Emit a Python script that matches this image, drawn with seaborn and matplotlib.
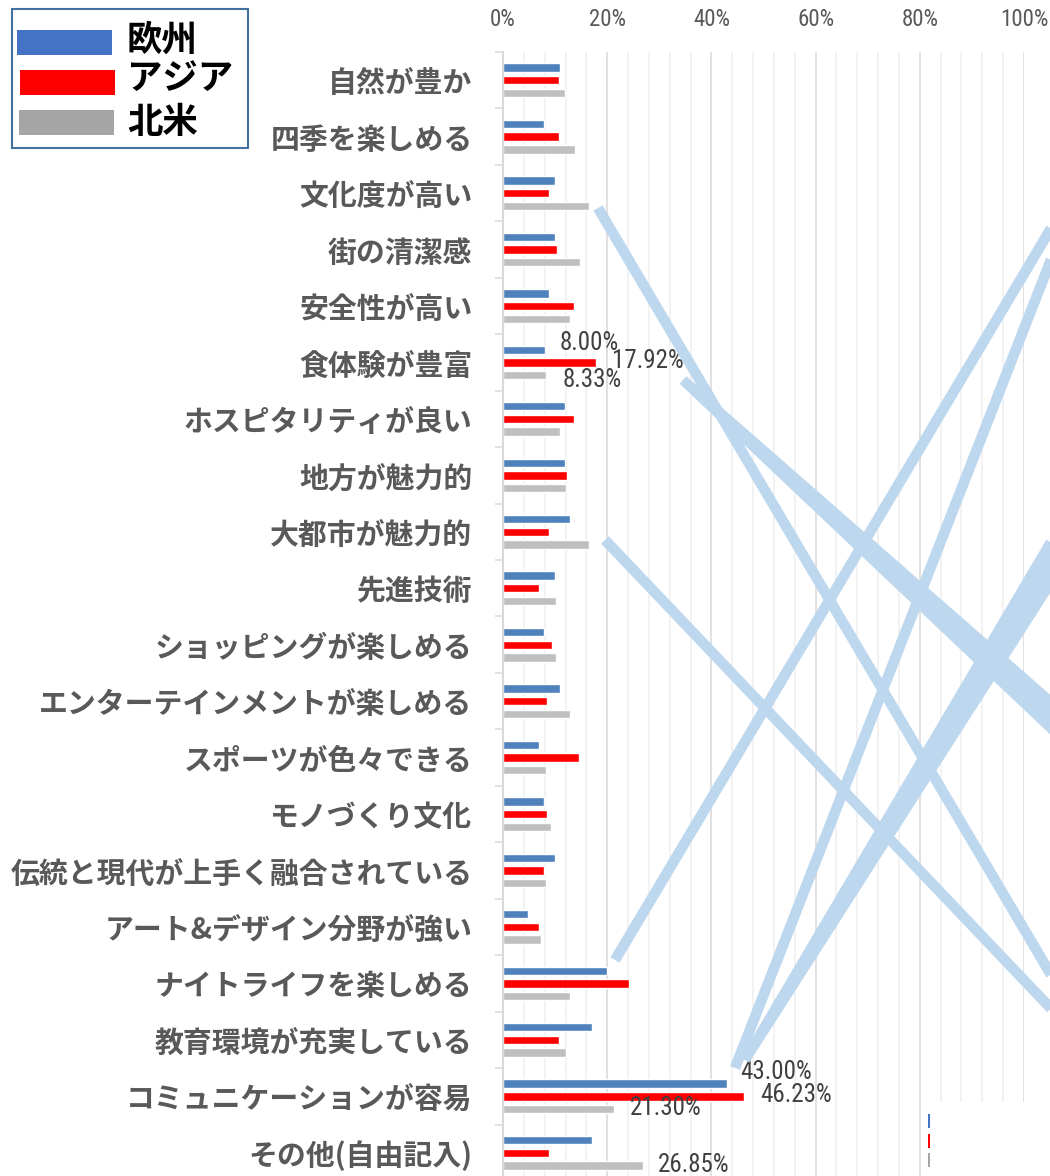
import matplotlib
matplotlib.use('Agg')
import matplotlib.pyplot as plt
from matplotlib import font_manager
from matplotlib.patches import Rectangle, Polygon
from matplotlib.lines import Line2D
from matplotlib.ticker import MultipleLocator, FuncFormatter
import seaborn as sns
import pandas as pd
import numpy as np

# ---- data (percent of respondents) ----
categories = [
    '自然が豊か', '四季を楽しめる', '文化度が高い', '街の清潔感', '安全性が高い',
    '食体験が豊富', 'ホスピタリティが良い', '地方が魅力的', '大都市が魅力的', '先進技術',
    'ショッピングが楽しめる', 'エンターテインメントが楽しめる', 'スポーツが色々できる',
    'モノづくり文化', '伝統と現代が上手く融合されている', 'アート&デザイン分野が強い',
    'ナイトライフを楽しめる', '教育環境が充実している', 'コミュニケーションが容易',
    'その他(自由記入)',
]
regions = ['欧州', 'アジア', '北米']
europe = [11.0, 7.9, 9.9, 9.9, 8.9, 8.00, 11.9, 11.9, 12.9, 9.9,
          7.9, 11.0, 6.9, 7.9, 9.9, 4.8, 20.0, 17.0, 43.00, 17.0]
asia = [10.8, 10.8, 8.8, 10.3, 13.6, 17.92, 13.6, 12.3, 8.8, 7.0,
        9.4, 8.4, 14.6, 8.4, 7.9, 7.0, 24.1, 10.8, 46.23, 8.8]
north_america = [11.9, 13.9, 16.6, 14.8, 12.9, 8.33, 11.0, 12.0, 16.6, 10.1,
                 10.1, 12.9, 8.3, 9.2, 8.3, 7.3, 12.9, 12.0, 21.30, 26.85]

# which bars carry a value label: (category index, region index)
labelled = [(5, 0), (5, 1), (5, 2), (18, 0), (18, 1), (18, 2), (19, 2)]
# label nudges in pixels (dx right, dy down)
label_nudge = [(15, -7), (16, -1), (16, 5), (13, -12), (16, -1), (16, -1), (15, 0)]

BAR_COLORS = ['#4F81BD', '#FF0000', '#BFBFBF']
KEY_COLORS = ['#4472C4', '#FF0000', '#A5A5A5']
W, H, DPI = 1050, 1176, 100

sns.set_theme(style="white")
plt.rcParams['font.family'] = ['Noto Sans CJK JP', 'DejaVu Sans']

names = {f.name for f in font_manager.fontManager.ttflist}
num_font = next((f for f in ['Liberation Sans Narrow', 'Roboto Condensed', 'Open Sans Condensed']
                 if f in names), 'Liberation Sans')

df = pd.DataFrame({
    'category': categories * 3,
    'region': np.repeat(regions, len(categories)),
    'value': europe + asia + north_america,
})

fig = plt.figure(figsize=(W / DPI, H / DPI), dpi=DPI)
fig.patch.set_facecolor('white')
ax = fig.add_axes([503 / W, 1 - 1181 / H, 521 / W, 1129 / H])

group_width = 0.673
sns.barplot(data=df, y='category', x='value', hue='region', hue_order=regions,
            order=categories, palette=BAR_COLORS, orient='h',
            width=group_width, gap=0.34, legend=False, ax=ax, saturation=1)

ax.set_xlim(0, 100)
ax.set_ylim(len(categories) - 0.5, -0.5)
ax.set_xlabel('')
ax.set_ylabel('')

# top percent axis with light gridlines
ax.xaxis.tick_top()
ax.xaxis.set_major_locator(MultipleLocator(20))
ax.xaxis.set_minor_locator(MultipleLocator(4))
ax.xaxis.set_major_formatter(FuncFormatter(lambda v, p: f'{v:.0f}%'))
ax.tick_params(axis='x', which='both', length=0, pad=15, labelsize=16.5,
               labelcolor='#595959')
for lbl in ax.get_xticklabels():
    lbl.set_fontfamily(num_font)
ax.grid(axis='x', which='major', color='#D9D9D9', linewidth=1.1)
ax.grid(axis='x', which='minor', color='#EFEFEF', linewidth=1.1)
ax.grid(axis='y', visible=False)
ax.set_axisbelow(True)

# category labels + separator ticks
ax.tick_params(axis='y', which='major', length=0, pad=22, labelsize=20.8,
               labelcolor='#595959')
for lbl in ax.get_yticklabels():
    lbl.set_fontweight('bold')
ax.set_yticks(np.arange(-0.5, len(categories), 1), minor=True)
ax.tick_params(axis='y', which='minor', length=6, width=1.1, color='#D9D9D9', left=True)

for side in ['top', 'right', 'bottom']:
    ax.spines[side].set_visible(False)
ax.spines['left'].set_color('#D9D9D9')
ax.spines['left'].set_linewidth(1.5)

# value labels
series = [europe, asia, north_america]
step = group_width / 3
for (ci, ri), (dx, dy) in zip(labelled, label_nudge):
    v = series[ri][ci]
    ax.annotate(f'{v:.2f}%', xy=(v, ci + (ri - 1) * step),
                xytext=(dx * 0.72, -dy * 0.72), textcoords='offset points',
                ha='left', va='center', fontsize=18, color='#404040',
                fontfamily=num_font, annotation_clip=False)


def fx(x):
    return x / W


def fy(y):
    return 1 - y / H


# legend box (top left)
fig.add_artist(Rectangle((fx(12), fy(148)), (248 - 12) / W, (148 - 9) / H,
                         facecolor='white', edgecolor='#41719C', linewidth=1.5,
                         transform=fig.transFigure, zorder=6))
key_boxes = [(17, 30), (20, 70), (19, 110)]
key_text_y = [40, 79, 123]
for (kx, ky), ty, name, col in zip(key_boxes, key_text_y, regions, KEY_COLORS):
    fig.add_artist(Rectangle((fx(kx), fy(ky + 25)), 95 / W, 25 / H, facecolor=col,
                             edgecolor='none', transform=fig.transFigure, zorder=7))
    fig.text(fx(127), fy(ty), name, ha='left', va='center', fontsize=25.5,
             fontweight='bold', color='black', zorder=7)

# stray callout leader lines left over in the original chart
LEADER = '#BDD7EE'
thin_lines = [((598, 208), (1060, 990)), ((605, 540), (1060, 1018)),
              ((615, 960), (1056, 220)), ((735, 1068), (1054, 252))]
for (x0, y0), (x1, y1) in thin_lines:
    fig.add_artist(Line2D([fx(x0), fx(x1)], [fy(y0), fy(y1)], color=LEADER,
                          linewidth=7.6, solid_capstyle='butt',
                          transform=fig.transFigure, zorder=5))


def wedge(p0, p1, w0, w1):
    p0, p1 = np.array(p0, float), np.array(p1, float)
    d = (p1 - p0) / np.linalg.norm(p1 - p0)
    n = np.array([-d[1], d[0]])
    pts = [p0 + n * w0 / 2, p1 + n * w1 / 2, p1 - n * w1 / 2, p0 - n * w0 / 2]
    return [(fx(px), fy(py)) for px, py in pts]


for p0, p1, w0, w1 in [((683, 380), (1062, 725), 10, 30),
                       ((745, 1060), (1060, 548), 10, 32)]:
    fig.add_artist(Polygon(wedge(p0, p1, w0, w1), closed=True, facecolor=LEADER,
                           edgecolor='none', transform=fig.transFigure, zorder=5))

# remnant of a second legend (bottom right)
fig.add_artist(Rectangle((fx(928), fy(1176)), 122 / W, 74 / H, facecolor='white',
                         edgecolor='none', transform=fig.transFigure, zorder=6))
for (y0, y1), col in zip([(1114, 1128), (1134, 1148), (1153, 1167)], KEY_COLORS):
    fig.add_artist(Rectangle((fx(928), fy(y1)), 2 / W, (y1 - y0) / H, facecolor=col,
                             edgecolor='none', transform=fig.transFigure, zorder=7))

fig.savefig('out.png', dpi=DPI, facecolor='white')
plt.close(fig)
